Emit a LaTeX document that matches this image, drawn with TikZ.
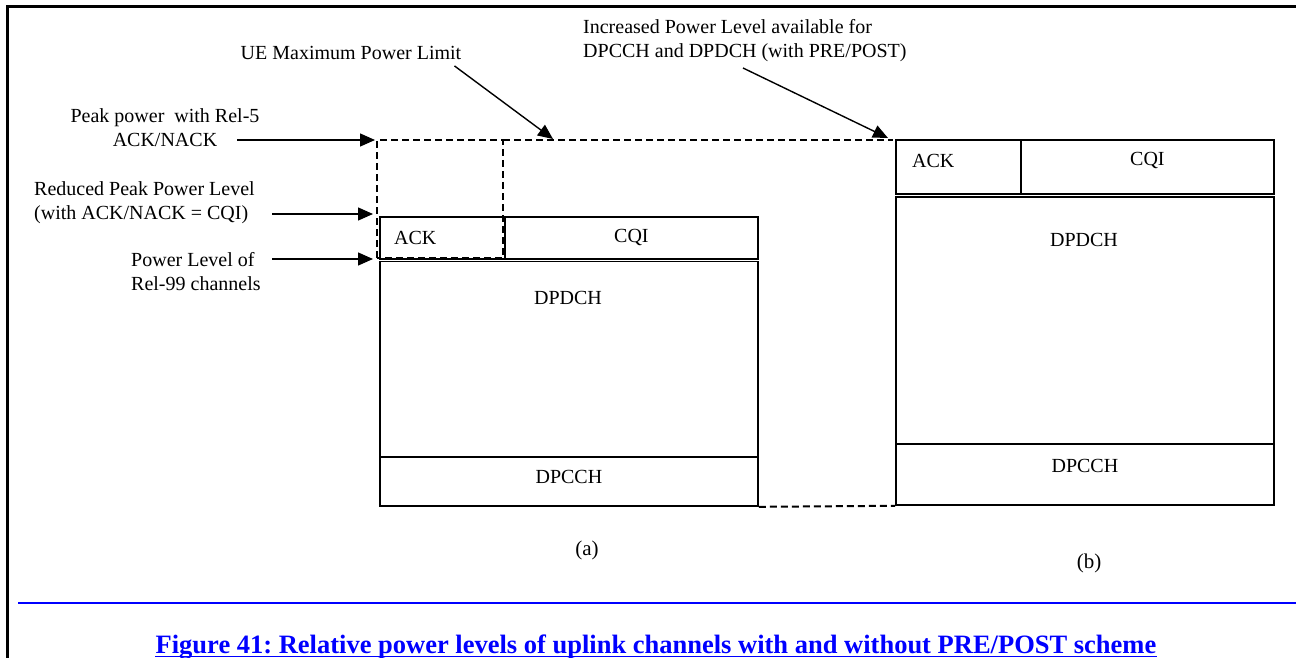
\documentclass[tikz,border=0pt]{standalone}
\usepackage{fontspec}
\setmainfont{Liberation Serif}
\usetikzlibrary{arrows.meta,positioning}
\frenchspacing
\begin{document}
\begin{tikzpicture}[x=1pt,y=-1pt,every node/.style={font=\fontsize{20}{24}\selectfont,inner sep=0pt},
  cell/.style={draw,line width=1.8pt,anchor=north west},
  lvl/.style={draw,line width=2pt,dash pattern=on 7pt off 4pt},
  pointer/.style={-{Triangle[length=15pt,width=13pt]},line width=1.4pt}]
\useasboundingbox (0,0) rectangle (1296,658);
% frame and caption rule
\draw[line width=3pt] (7,658) -- (7,7) -- (1296,7);
\draw[line width=2.5pt,blue] (18,603) -- (1296,603);
% (a) without PRE/POST
\node[cell,minimum width=125pt,minimum height=42pt] (ackA) at (379,216) {};
\node[cell,minimum width=253pt,minimum height=42pt] (cqiA) at (504,216) {};
\node[cell,minimum width=378pt,minimum height=195.5pt] (dpdchA) at (379,260.5) {};
\node[cell,minimum width=378pt,minimum height=49pt] (dpcchA) at (379,456) {};
\node[right=15pt of ackA.west] {ACK}; \node at (cqiA) {CQI};
\node at (568,298) {DPDCH}; \node[yshift=4pt] at (dpcchA) {DPCCH};
\node[font=\fontsize{21}{24}\selectfont] (capA) at (587,550) {(a)};
% (b) with PRE/POST
\node[cell,minimum width=125pt,minimum height=54pt] (ackB) at (895,139) {};
\node[cell,minimum width=253pt,minimum height=54pt] (cqiB) at (1020,139) {};
\node[cell,minimum width=378pt,minimum height=247pt] (dpdchB) at (895,196) {};
\node[cell,minimum width=378pt,minimum height=61pt] (dpcchB) at (895,443) {};
\node[right=17pt of ackB.west,yshift=6pt] {ACK}; \node[yshift=6pt] at (cqiB) {CQI};
\node at (1084,240) {DPDCH}; \node[yshift=8pt] at (dpcchB) {DPCCH};
\node[font=\fontsize{21}{24}\selectfont] (capB) at (1089,563) {(b)};
% power levels
\draw[lvl] (377,258) rectangle (503,140);
\draw[lvl] (503,140) -- (893,140);
\draw[lvl] (dpcchA.south east) -- (dpcchB.south west);
% labels
\node (peak) at (165,128) [align=center] {Peak power\ \ with Rel-5\\ACK/NACK};
\node (reduced) at (34,202.5) [anchor=west,align=left] {Reduced Peak Power Level\\(with ACK/NACK = CQI)};
\node (rel99) at (131,272) [anchor=west,align=left] {Power Level of\\Rel-99 channels};
\node (ueMax) at (351,53) {UE Maximum Power Limit};
\node (incr) at (583,41) [anchor=west,align=left] {Increased Power Level available for\\DPCCH and DPDCH (with PRE/POST)};
\coordinate (peakS) at (237,140); \coordinate (peakLvl) at (375,140);
\coordinate (redS) at (272,214); \coordinate (redLvl) at (373,214);
\coordinate (r99S) at (272,259); \coordinate (r99Lvl) at (373,259);
\coordinate (maxLvl) at (553,139); \coordinate (incLvl) at (888,138);
\draw[pointer] (peakS) -- (peakLvl); \draw[pointer] (redS) -- (redLvl); \draw[pointer] (r99S) -- (r99Lvl);
\draw[pointer] ([xshift=-7pt,yshift=-6pt]ueMax.south east) -- (maxLvl);
\draw[pointer] (743,68) -- (incLvl);
% caption
\node[anchor=base,text=blue,font=\fontsize{26.5}{30}\selectfont\bfseries] (caption) at (656,653)
  {Figure 41: Relative power levels of uplink channels with and without PRE/POST scheme};
\draw[blue,line width=1.5pt] ([yshift=-3.5pt]caption.base west) -- ([yshift=-3.5pt]caption.base east);
\end{tikzpicture}
\end{document}
